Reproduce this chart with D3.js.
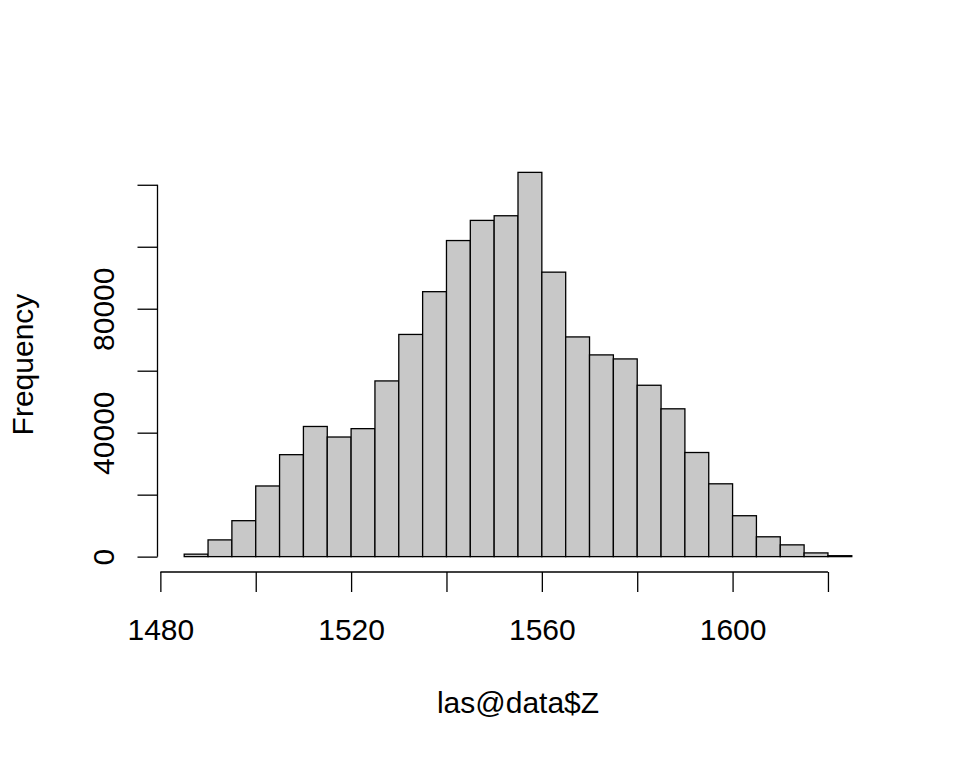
<!DOCTYPE html>
<html>
<head>
<meta charset="utf-8">
<script src="https://cdn.jsdelivr.net/npm/d3@7"></script>
<style>
  body { margin: 0; background: #fff; }
  svg { display: block; font-family: "Liberation Sans", Arial, Helvetica, sans-serif; }
  .tick line, .axis-line { stroke: #000; stroke-width: 1.3; }
</style>
</head>
<body>
<svg width="960" height="768"></svg>
<script>
'use strict'

// bin edges of the histogram (width 5)
var breaks = [1485, 1490, 1495, 1500, 1505, 1510, 1515, 1520, 1525, 1530,
  1535, 1540, 1545, 1550, 1555, 1560, 1565, 1570, 1575, 1580,
  1585, 1590, 1595, 1600, 1605, 1610, 1615, 1620, 1625]

// counts per bin
var counts = [800, 5400, 11600, 22800, 32900, 42000, 38600, 41300, 56700, 71700,
  85500, 102000, 108500, 110000, 124000, 91800, 70900, 65100, 63800, 55300,
  47700, 33600, 23500, 13200, 6400, 3800, 1200, 300]

var xTicks = [1480, 1500, 1520, 1540, 1560, 1580, 1600, 1620]
var xLabels = [1480, 1520, 1560, 1600]
var yTicks = [0, 20000, 40000, 60000, 80000, 100000, 120000]
var yLabels = [0, 40000, 80000]

var xTitle = 'las@data$Z'
var yTitle = 'Frequency'

var fontSize = 30

var svg = d3.select('svg')

var plot = { left: 157.5, right: 878.5, top: 157, bottom: 572 }

// R style 4% padding around the data range
var xMin = d3.min(breaks), xMax = d3.max(breaks)
var xPad = (xMax - xMin) * 0.04
var yMax = d3.max(counts)
var yPad = yMax * 0.04

var x = d3.scaleLinear()
  .domain([xMin - xPad, xMax + xPad])
  .range([plot.left, plot.right])

var y = d3.scaleLinear()
  .domain([-yPad, yMax + yPad])
  .range([plot.bottom, plot.top])

var bins = counts.map(function(c, i) {
  return { x0: breaks[i], x1: breaks[i + 1], count: c }
})

// bars
svg.append('g')
  .selectAll('rect')
  .data(bins)
  .enter().append('rect')
  .attr('x', function(d) { return x(d.x0) })
  .attr('y', function(d) { return y(d.count) })
  .attr('width', function(d) { return x(d.x1) - x(d.x0) })
  .attr('height', function(d) { return y(0) - y(d.count) })
  .attr('fill', '#c8c8c8')
  .attr('stroke', '#000')
  .attr('stroke-width', 1.3)

// x axis
var xAxis = svg.append('g')
  .attr('transform', 'translate(0,' + plot.bottom + ')')
  .call(d3.axisBottom(x)
    .tickValues(xTicks)
    .tickSize(20)
    .tickFormat(function(d) { return xLabels.indexOf(d) >= 0 ? d : '' }))

xAxis.select('.domain').remove()
xAxis.append('line')
  .attr('class', 'axis-line')
  .attr('x1', x(d3.min(xTicks)))
  .attr('x2', x(d3.max(xTicks)))
xAxis.selectAll('text')
  .attr('fill', '#000')
  .style('font-size', fontSize + 'px')
  .attr('y', 68)
  .attr('dy', null)

// y axis
var yAxis = svg.append('g')
  .attr('transform', 'translate(' + plot.left + ',0)')
  .call(d3.axisLeft(y)
    .tickValues(yTicks)
    .tickSize(20)
    .tickFormat(function(d) { return yLabels.indexOf(d) >= 0 ? d : '' }))

yAxis.select('.domain').remove()
yAxis.append('line')
  .attr('class', 'axis-line')
  .attr('y1', y(d3.min(yTicks)))
  .attr('y2', y(d3.max(yTicks)))
yAxis.selectAll('text')
  .attr('fill', '#000')
  .style('font-size', fontSize + 'px')
  .attr('text-anchor', 'middle')
  .attr('transform', 'rotate(-90)')
  .attr('x', 0)
  .attr('y', -44)
  .attr('dy', null)

// axis titles
svg.append('text')
  .attr('x', (plot.left + plot.right) / 2)
  .attr('y', 713)
  .attr('text-anchor', 'middle')
  .style('font-size', fontSize + 'px')
  .text(xTitle)

svg.append('text')
  .attr('transform', 'translate(33,' + (plot.top + plot.bottom) / 2 + ') rotate(-90)')
  .attr('text-anchor', 'middle')
  .style('font-size', fontSize + 'px')
  .text(yTitle)
</script>
</body>
</html>
